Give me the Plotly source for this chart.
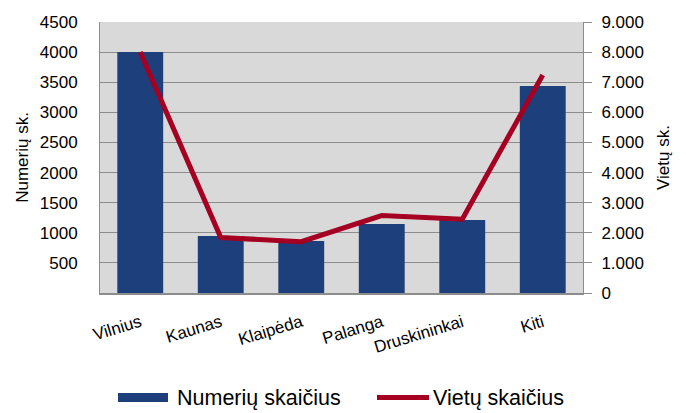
import plotly.graph_objects as go

# Accommodation data by city
cities = ["Vilnius", "Kaunas", "Klaipėda", "Palanga", "Druskininkai", "Kiti"]
rooms = [4000, 946, 863, 1146, 1212, 3437]
beds = [8000, 1840, 1705, 2570, 2450, 7240]

left_ticks = [500, 1000, 1500, 2000, 2500, 3000, 3500, 4000, 4500]
right_ticks = [0, 1000, 2000, 3000, 4000, 5000, 6000, 7000, 8000, 9000]
right_labels = ["0", "1.000", "2.000", "3.000", "4.000", "5.000", "6.000", "7.000", "8.000", "9.000"]

BAR = "#1d3f7b"
LINE = "#a50021"
GRID = "#8c8c8c"
AXIS = "#8c8c8c"
FONT = "Liberation Sans, Arial, sans-serif"

W, H = 686, 413
ML, MR, MT, MB = 100, 103, 22, 120
PW, PH = W - ML - MR, H - MT - MB


def px_x(p):
    """Pixel x -> paper x."""
    return (p - ML) / PW


def px_y(p):
    """Pixel y (from top) -> paper y."""
    return (H - MB - p) / PH


fig = go.Figure()
fig.add_trace(go.Bar(
    x=cities, y=rooms, name="Numerių skaičius",
    marker=dict(color=BAR, line=dict(width=0)),
    showlegend=False,
))
fig.add_trace(go.Scatter(
    x=cities, y=beds, name="Vietų skaičius", yaxis="y2",
    mode="lines", line=dict(color=LINE, width=5),
    showlegend=False,
))

# Legend drawn below the plot
legend_y = 397.5
shapes = [
    dict(type="rect", xref="paper", yref="paper",
         x0=px_x(118), x1=px_x(168), y0=px_y(393), y1=px_y(402),
         fillcolor=BAR, line=dict(width=0)),
    dict(type="line", xref="paper", yref="paper",
         x0=px_x(377), x1=px_x(429), y0=px_y(legend_y), y1=px_y(legend_y),
         line=dict(color=LINE, width=5)),
]
annotations = [
    dict(text="Numerių skaičius", xref="paper", yref="paper",
         x=px_x(175), y=px_y(legend_y), xanchor="left", yanchor="middle",
         showarrow=False, font=dict(size=21.5)),
    dict(text="Vietų skaičius", xref="paper", yref="paper",
         x=px_x(431), y=px_y(legend_y), xanchor="left", yanchor="middle",
         showarrow=False, font=dict(size=21.5)),
]

fig.update_layout(
    width=W, height=H,
    margin=dict(l=ML, r=MR, t=MT, b=MB),
    paper_bgcolor="white",
    plot_bgcolor="#d9d9d9",
    font=dict(family=FONT, size=17, color="black"),
    bargap=0.43,
    showlegend=False,
    shapes=shapes,
    annotations=annotations,
    xaxis=dict(
        tickangle=-17, showgrid=False, showline=True, linecolor=AXIS,
        linewidth=2, ticks="", tickfont=dict(size=17), fixedrange=True,
        automargin=False, ticklabelstandoff=11,
    ),
    yaxis=dict(
        range=[0, 4500], tickvals=left_ticks, showgrid=True, gridcolor=GRID,
        gridwidth=1, showline=True, linecolor=AXIS, linewidth=1,
        ticks="", zeroline=False, automargin=False, ticklabelstandoff=18,
        title=dict(text="Numerių sk.", font=dict(size=17), standoff=6),
        tickfont=dict(size=17),
    ),
    yaxis2=dict(
        range=[0, 9000], tickvals=right_ticks, ticktext=right_labels,
        overlaying="y", side="right", showgrid=False, showline=True,
        linecolor=AXIS, linewidth=1, ticks="outside", ticklen=8,
        tickcolor=AXIS, zeroline=False, automargin=False, ticklabelstandoff=6,
        title=dict(text="Vietų sk.", font=dict(size=17), standoff=14),
        tickfont=dict(size=17),
    ),
)

fig.write_html("out.html")
